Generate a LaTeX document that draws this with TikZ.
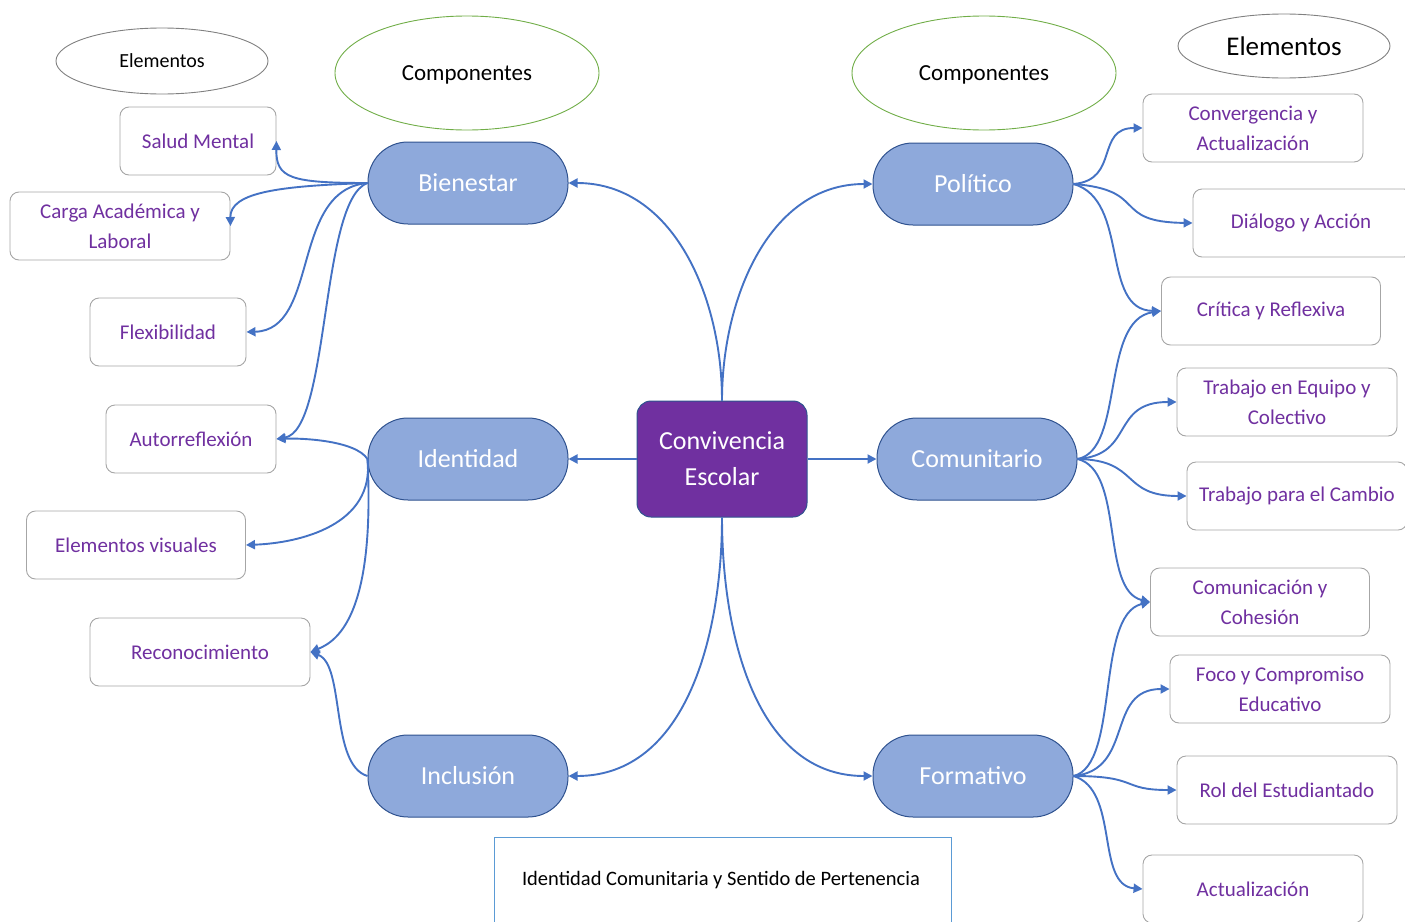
\documentclass[tikz,border=0pt]{standalone}
\usepackage{fontspec}
\setmainfont{Carlito}
\usetikzlibrary{arrows.meta,shapes.geometric}
\definecolor{purp}{HTML}{7030A0}
\definecolor{compfill}{HTML}{8EA9DB}
\definecolor{compdraw}{HTML}{2F528F}
\definecolor{conn}{HTML}{4472C4}
\definecolor{boxgray}{HTML}{A6A6A6}
\definecolor{ellgreen}{HTML}{70AD47}
\definecolor{bottomblue}{HTML}{5B9BD5}
\begin{document}
\begin{tikzpicture}[x=1pt,y=-1pt,
  comp/.style={draw=compdraw,line width=1pt,fill=compfill,rounded corners=40pt,minimum width=200pt,minimum height=82pt,text=white,font=\fontsize{26}{30}\selectfont,inner sep=0pt},
  center/.style={draw=compdraw,line width=1pt,fill=purp,rounded corners=14pt,minimum width=170pt,minimum height=116pt,text=white,font=\fontsize{26}{36}\selectfont,align=center,inner sep=0pt},
  elem/.style={draw=boxgray,line width=0.9pt,fill=white,rounded corners=9pt,minimum height=68pt,text=purp,font=\fontsize{21}{30}\selectfont,align=center,inner sep=0pt},
  gell/.style={draw=ellgreen,line width=0.9pt,ellipse,minimum width=264pt,minimum height=114pt,font=\fontsize{23}{28}\selectfont,inner sep=0pt,text depth=0pt},
  kell/.style={draw=gray,line width=0.9pt,ellipse,inner sep=0pt},
  conn/.style={draw=conn,line width=1.9pt,-{Triangle[length=9pt,width=9pt]}}
]
\useasboundingbox (0,0) rectangle (1405,921);
% ellipses
\node[kell,minimum width=212pt,minimum height=66pt,font=\fontsize{20}{24}\selectfont] (elL) at (162,61) {Elementos};
\node[gell] (coL) at (467,73) {Componentes};
\node[gell] (coR) at (984,73) {Componentes};
\node[kell,minimum width=212pt,minimum height=64pt,font=\fontsize{27}{30}\selectfont] (elR) at (1284,46) {Elementos};
% center
\node[center] (cv) at (722,459) {Convivencia\\Escolar};
% components
\node[comp] (bien) at (468,183) {Bienestar};
\node[comp] (iden) at (468,459) {Identidad};
\node[comp] (incl) at (468,776) {Inclusión};
\node[comp] (pol) at (973,184) {Político};
\node[comp] (com) at (977,459) {Comunitario};
\node[comp] (form) at (973,776) {Formativo};
% left elements
\node[elem,minimum width=156pt] (sal) at (198,141) {Salud Mental};
\node[elem,minimum width=220pt] (car) at (120,226) {Carga Académica y\\Laboral};
\node[elem,minimum width=156pt] (flex) at (168,332) {Flexibilidad};
\node[elem,minimum width=170pt] (auto) at (191,439) {Autorreflexión};
\node[elem,minimum width=219pt] (vis) at (136,545) {Elementos visuales};
\node[elem,minimum width=220pt] (reco) at (200,652) {Reconocimiento};
% right elements
\node[elem,minimum width=220pt] (conv) at (1253,128) {Convergencia y\\Actualización};
\node[elem,minimum width=220pt] (dial) at (1303,223) {\hspace*{-4pt}Diálogo y Acción};
\node[elem,minimum width=219pt] (crit) at (1271,311) {Crítica y Reflexiva};
\node[elem,minimum width=220pt] (equi) at (1287,402) {Trabajo en Equipo y\\Colectivo};
\node[elem,minimum width=220pt] (camb) at (1297,496) {Trabajo para el Cambio};
\node[elem,minimum width=219pt] (comu) at (1260,602) {Comunicación y\\Cohesión};
\node[elem,minimum width=220pt] (foco) at (1280,689) {Foco y Compromiso\\Educativo};
\node[elem,minimum width=220pt] (rol) at (1287,790) {Rol del Estudiantado};
\node[elem,minimum width=220pt] (act) at (1253,889) {Actualización};
% bottom box
\node[draw=bottomblue,line width=0.8pt,minimum width=457pt,minimum height=100pt,inner sep=0pt] (idc) at (722.5,887) {};
\node[font=\fontsize{20.5}{24}\selectfont] (idct) at (721,880) {Identidad Comunitaria y Sentido de Pertenencia};
% center connectors
\draw[conn] (cv.north) to[out=90,in=0] (bien.east);
\draw[conn] (cv.north) to[out=90,in=180] (pol.west);
\draw[conn] (cv.west) -- (iden.east);
\draw[conn] (cv.east) -- (com.west);
\draw[conn] (cv.south) to[out=-90,in=0] (incl.east);
\draw[conn] (cv.south) to[out=-90,in=180] (form.west);
% left branches
\draw[conn] (bien.west) .. controls (290,183) and (276,178) .. (sal.east);
\draw[conn] (bien.west) .. controls (280,186) and (230,192) .. (car.east);
\draw[conn] (bien.west) .. controls (290,190) and (320,330) .. (flex.east);
\draw[conn] (bien.west) .. controls (320,200) and (330,430) .. (auto.east);
\draw[conn] (iden.west) .. controls (355,440) and (300,438) .. (auto.east);
\draw[conn] (iden.west) .. controls (375,525) and (300,543) .. (vis.east);
\draw[conn] (iden.west) .. controls (375,610) and (340,640) .. (reco.east);
\draw[conn] (incl.west) .. controls (330,765) and (345,665) .. (reco.east);
% right branches
\draw[conn] (pol.east) .. controls (1120,180) and (1095,128) .. (conv.west);
\draw[conn] (pol.east) .. controls (1150,190) and (1110,222) .. (dial.west);
\draw[conn] (pol.east) .. controls (1130,200) and (1100,310) .. (crit.west);
\draw[conn] (com.east) .. controls (1125,450) and (1100,320) .. (crit.west);
\draw[conn] (com.east) .. controls (1135,455) and (1110,402) .. (equi.west);
\draw[conn] (com.east) .. controls (1140,460) and (1120,496) .. (camb.west);
\draw[conn] (com.east) .. controls (1125,470) and (1100,590) .. (comu.west);
\draw[conn] (form.east) .. controls (1120,765) and (1095,615) .. (comu.west);
\draw[conn] (form.east) .. controls (1135,770) and (1105,689) .. (foco.west);
\draw[conn] (form.east) .. controls (1140,776) and (1120,790) .. (rol.west);
\draw[conn] (form.east) .. controls (1120,790) and (1095,885) .. (act.west);
\end{tikzpicture}
\end{document}
